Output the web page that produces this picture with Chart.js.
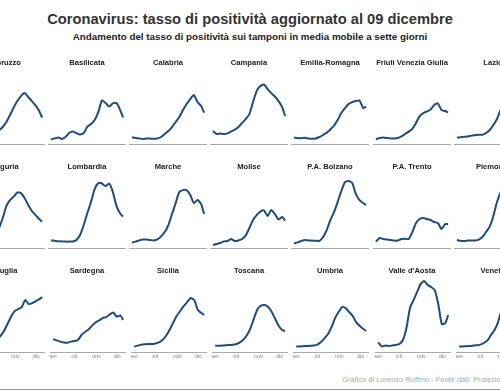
<!DOCTYPE html>
<html>
<head>
<meta charset="utf-8">
<script src="https://cdn.jsdelivr.net/npm/chart.js@4.4.0/dist/chart.umd.min.js"></script>
<style>
  html, body { margin: 0; padding: 0; background: #fff; }
  body { width: 500px; height: 391px; position: relative; overflow: hidden; font-family: "Liberation Sans", Arial, sans-serif; }
  #title { position: absolute; left: 0; width: 500px; top: 10.5px; line-height: 17px; text-align: center; font-weight: bold; font-size: 14.7px; color: #333; }
  #subtitle { position: absolute; left: 0; width: 500px; top: 31px; line-height: 12px; text-align: center; font-weight: bold; font-size: 9.8px; color: #222; }
  #caption { position: absolute; left: 342px; top: 374.5px; line-height: 9px; font-size: 7.5px; color: #aaa; white-space: nowrap; }
  #bottomline { position: absolute; left: 0; top: 389px; width: 500px; height: 1px; background: #999; }
  canvas { position: absolute; }
</style>
</head>
<body>
<div id="title">Coronavirus: tasso di positività aggiornato al 09 dicembre</div>
<div id="subtitle">Andamento del tasso di positività sui tamponi in media mobile a sette giorni</div>
<div id="caption">Grafico di Lorenzo Ruffino - Fonte dati: Protezione Civile</div>
<div id="bottomline"></div>
<script>
// days since 1 September 2020, last point = 9 December
var days = [0, 5, 10, 15, 20, 25, 30, 35, 40, 45, 50, 55, 60, 65, 70, 75, 80, 85, 90, 95, 99];
var monthTicks = [0, 30, 61, 91];
var monthLabels = ['set', 'ott', 'nov', 'dic'];

// 7-day rolling positivity rate (%)
var abruzzo     = [2.5, 2.8, 3, 3.2, 3.5, 4, 4.5, 5.5, 6.8, 8.5, 11, 14.5, 18.2, 21.5, 24, 25.5, 23.5, 21.5, 19.3, 16.5, 13.2];
var basilicata  = [2.3, 2.8, 3.3, 2.5, 3.5, 5.5, 6.3, 5.5, 4.8, 5.5, 8.7, 10, 12, 16, 21.8, 20.5, 18.8, 20.3, 20.5, 17, 13.3];
var calabria    = [3.3, 3, 2.8, 2.5, 2.8, 2.7, 2.6, 2.8, 3.5, 5, 6.5, 8.5, 11, 13.5, 17, 20, 22.5, 24.5, 21, 19, 15.7];
var campania    = [6.5, 5, 5.2, 5, 5.3, 6.3, 7.2, 8.5, 10.5, 12.5, 15, 21, 26.5, 29, 29.8, 27.5, 25.5, 23.8, 21.5, 18.5, 14];
var emilia      = [3.2, 3, 2.9, 3.1, 2.8, 2.6, 2.8, 3.5, 4.5, 5.7, 7.3, 9.2, 12, 15.5, 18, 20, 21, 21.5, 21.8, 18, 18.7];
var friuli      = [2.3, 3, 3.2, 3, 2.8, 2.8, 3, 3.8, 5, 6.2, 7.6, 10.5, 14, 15.5, 16.3, 17.3, 19.5, 20.3, 17, 16.5, 15.8];
var lazio       = [3.2, 3.4, 3.6, 3.8, 4.2, 4.4, 4.6, 4.6, 5.5, 7, 9.5, 12.5, 17, 19, 20, 19.5, 18.5, 17, 16, 15, 14.5];
var liguria     = [3, 3.5, 4, 4.5, 5, 5.5, 6, 7, 10, 15, 21, 24, 25.7, 27.8, 27.5, 25, 21.5, 18.5, 16.5, 14.5, 13.2];
var lombardia   = [3.8, 3.6, 3.4, 3.3, 3.2, 3.2, 3.3, 4, 6.5, 11.5, 17.5, 23, 29.5, 32.5, 32.3, 31, 32.3, 28, 21, 17.3, 15.7];
var marche      = [2.7, 3.2, 3.8, 4.3, 4.2, 4, 3.8, 4.3, 5.8, 8, 11.5, 17, 22.5, 28, 29, 29, 26.5, 22.5, 24, 22, 17];
var molise      = [1.5, 2, 2.5, 3.3, 3.5, 4.5, 3.5, 3.8, 4.5, 6.3, 10, 14, 16.5, 18.2, 18.8, 16, 19, 17, 14.3, 15.5, 13.7];
var bolzano     = [2.3, 2.8, 3.5, 4, 3.8, 3.7, 3.6, 3.6, 5.5, 9, 14, 18, 23, 28.5, 33, 33.5, 32.5, 27, 24, 22.5, 21.5];
var trento      = [3.2, 5, 4.5, 4.2, 4, 3.7, 3.8, 4.5, 4.6, 4.5, 8, 12.5, 14.5, 15, 14.5, 14, 13, 12.5, 9.5, 12, 12];
var piemonte    = [4, 3.6, 3.5, 3.7, 3.8, 3.8, 4.2, 5.5, 8, 10.7, 16, 23, 28, 31, 32, 31, 29, 26, 22, 19, 17];
var puglia      = [3, 3.2, 3.5, 4, 4.5, 5, 5.5, 6.5, 8, 10.5, 14, 17.7, 20.5, 21.5, 22.5, 26, 24, 24.5, 25.5, 26.5, 27.5];
var sardegna    = [6.5, 5.8, 5.2, 4.8, 4.6, 5.2, 5.5, 6, 8.5, 10, 11.3, 13.2, 14.8, 15.8, 17, 17.5, 18.8, 19.8, 17.7, 18.3, 16];
var sicilia     = [2.7, 3.2, 3.7, 3.9, 4, 4, 4.3, 4.8, 6, 8, 11, 14.5, 18, 20.5, 23, 25, 27, 26, 21, 19.5, 18.5];
var toscana     = [3.2, 3.1, 3.2, 3.4, 3.5, 3.6, 4, 4.8, 6.2, 8.5, 12, 17, 21.5, 23.2, 23.5, 22.5, 20, 16.5, 13, 11, 10.5];
var umbria      = [2.7, 2.8, 2.9, 3, 3.1, 3.2, 3.7, 5, 6.8, 9, 12.5, 17, 20, 22.5, 22, 20, 18, 14.8, 13, 11.5, 10.5];
var valledaosta = [4.8, 2.8, 3.2, 3, 3.3, 3.5, 4, 6, 12, 22, 26, 30, 34, 35.5, 33.5, 32.5, 31, 24, 14, 14.5, 18.5];
var veneto      = [2.7, 2.8, 2.9, 3, 3.2, 3.4, 3.7, 4.5, 5.8, 8.5, 11, 15, 21, 25, 27, 28, 28.5, 28, 29, 30, 30];

var regionNames = ['Abruzzo', 'Basilicata', 'Calabria', 'Campania', 'Emilia-Romagna', 'Friuli Venezia Giulia', 'Lazio',
  'Liguria', 'Lombardia', 'Marche', 'Molise', 'P.A. Bolzano', 'P.A. Trento', 'Piemonte',
  'Puglia', 'Sardegna', 'Sicilia', 'Toscana', 'Umbria', "Valle d'Aosta", 'Veneto'];
var regionValues = [abruzzo, basilicata, calabria, campania, emilia, friuli, lazio,
  liguria, lombardia, marche, molise, bolzano, trento, piemonte,
  puglia, sardegna, sicilia, toscana, umbria, valledaosta, veneto];

var colLeft = [-33, 48, 129, 210, 291, 373, 454];
var rowAxis = [144, 248, 352];
var lineColor = '#1f4c78';

Chart.defaults.font.family = '"Liberation Sans", Arial, sans-serif';

regionNames.forEach(function (name, i) {
  var row = Math.floor(i / 7);
  var col = i % 7;
  var bottomRow = row === 2;
  var axisH = bottomRow ? 10 : 2;

  var canvas = document.createElement('canvas');
  canvas.width = 78;
  canvas.height = 86 + axisH;
  canvas.style.left = colLeft[col] + 'px';
  canvas.style.top = (rowAxis[row] - 86) + 'px';
  document.body.appendChild(canvas);

  var points = regionValues[i].map(function (v, k) { return { x: days[k], y: v }; });

  new Chart(canvas, {
    type: 'line',
    data: {
      datasets: [{
        data: points,
        borderColor: lineColor,
        borderWidth: 2,
        pointRadius: 0,
        tension: 0.2,
        fill: false,
      }],
    },
    options: {
      responsive: false,
      animation: false,
      events: [],
      layout: { padding: 0 },
      plugins: {
        legend: { display: false },
        tooltip: { enabled: false },
        title: {
          display: true,
          text: name,
          color: '#222',
          font: { size: 7.6, weight: 'bold', lineHeight: 1.2 },
          padding: { top: 0, bottom: 0 },
        },
      },
      scales: {
        x: {
          type: 'linear',
          min: -4,
          max: 103,
          grid: { display: false, drawTicks: false },
          border: { display: true, color: '#aaa', width: 1 },
          afterBuildTicks: function (scale) {
            scale.ticks = monthTicks.map(function (v) { return { value: v }; });
          },
          afterFit: function (scale) { scale.height = axisH; },
          ticks: {
            display: bottomRow,
            autoSkip: false,
            maxRotation: 0,
            padding: 1.5,
            color: '#888',
            font: { size: 5.5 },
            callback: function (value, index) { return monthLabels[index]; },
          },
        },
        y: { display: false, min: 0, max: 38.5 },
      },
    },
  });
});
</script>
</body>
</html>
